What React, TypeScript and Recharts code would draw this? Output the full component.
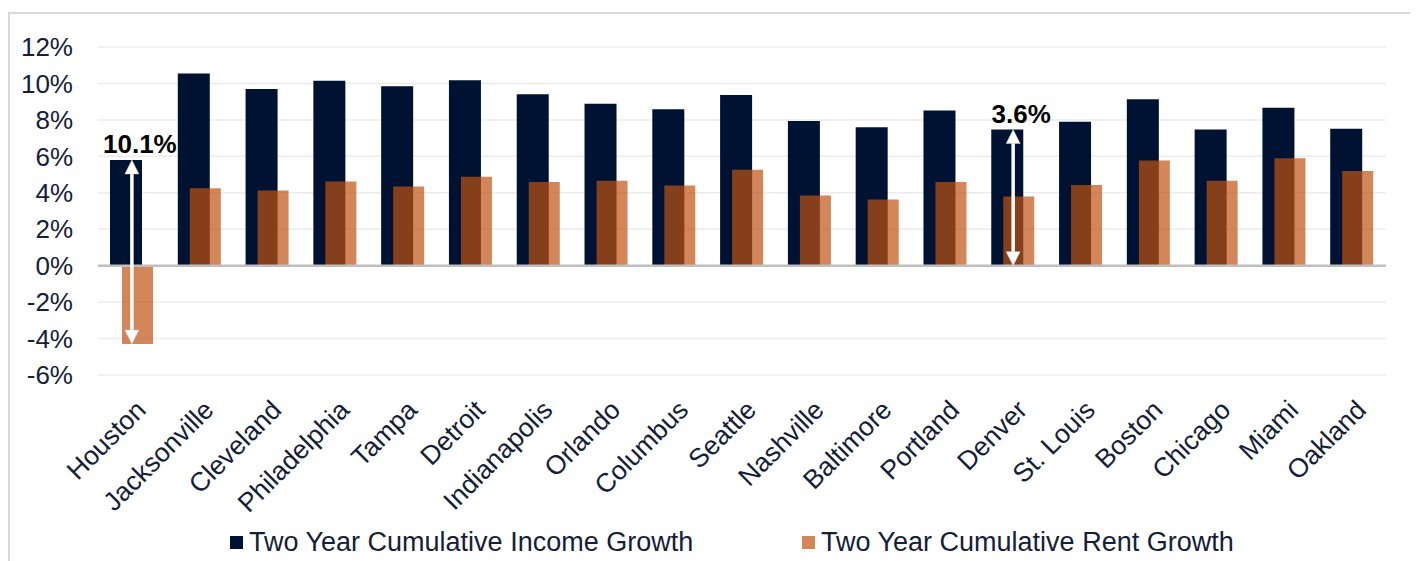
import React from 'react'
import { BarChart, Bar, XAxis, YAxis, CartesianGrid, ReferenceLine, Legend } from 'recharts'

const cities = [
  'Houston', 'Jacksonville', 'Cleveland', 'Philadelphia', 'Tampa', 'Detroit', 'Indianapolis',
  'Orlando', 'Columbus', 'Seattle', 'Nashville', 'Baltimore', 'Portland', 'Denver',
  'St. Louis', 'Boston', 'Chicago', 'Miami', 'Oakland'
]
const incomeGrowth = [
  5.8, 10.55, 9.69, 10.15, 9.84, 10.18, 9.41, 8.88, 8.58, 9.37,
  7.94, 7.59, 8.51, 7.47, 7.9, 9.13, 7.47, 8.66, 7.52
]
const rentGrowth = [
  -4.3, 4.25, 4.12, 4.62, 4.34, 4.88, 4.59, 4.66, 4.4, 5.27,
  3.85, 3.63, 4.59, 3.8, 4.42, 5.77, 4.66, 5.9, 5.2
]
const yTicks = [-6, -4, -2, 0, 2, 4, 6, 8, 10, 12]

// double arrows with the gap label above them
const arrows = [
  { city: 'Houston', from: 5.8, to: -4.3, label: '10.1%' },
  { city: 'Denver', from: 7.47, to: 0, label: '3.6%' }
]

const NAVY = '#001231'
const RUST = '#BF5313'
const TEXT = '#142038'

const data = cities.map((city, i) => ({
  city,
  income: incomeGrowth[i],
  rent: rentGrowth[i]
}))

const CityTick = (props: any) => {
  const { x, y, payload } = props
  return (
    <g transform={`translate(${x + 9},${y + 30})`}>
      <text textAnchor="end" transform="rotate(-45)" dy="0.35em" fontSize={26.5} fill={TEXT}>
        {payload.value}
      </text>
    </g>
  )
}

const arrowShape = (label: string) => (props: any) => {
  const { x1, y1, x2, y2 } = props
  const head = 14
  const half = 7
  return (
    <g>
      <line x1={x1} y1={y1 + head - 2} x2={x2} y2={y2 - head + 2} stroke="#ffffff" strokeWidth={3.5} />
      <polygon
        points={`${x1},${y1} ${x1 - half},${y1 + head} ${x1 + half},${y1 + head}`}
        fill="#ffffff"
        stroke="#c8c8c8"
        strokeWidth={0.5}
      />
      <polygon
        points={`${x2},${y2} ${x2 - half},${y2 - head} ${x2 + half},${y2 - head}`}
        fill="#ffffff"
        stroke="#c8c8c8"
        strokeWidth={0.5}
      />
      <text x={x1 + 8} y={y1 - 7} textAnchor="middle" fontSize={26} fontWeight="bold" fill="#000000">
        {label}
      </text>
    </g>
  )
}

const LegendContent = () => (
  <div style={{ display: 'flex', alignItems: 'center', height: 30, fontSize: 27, color: TEXT }}>
    <div style={{ display: 'flex', alignItems: 'center', width: 572 }}>
      <span style={{ width: 13, height: 13, background: NAVY, marginRight: 6, display: 'inline-block' }} />
      <span>Two Year Cumulative Income Growth</span>
    </div>
    <div style={{ display: 'flex', alignItems: 'center' }}>
      <span style={{ width: 13, height: 13, background: RUST, opacity: 0.7, marginRight: 6, display: 'inline-block' }} />
      <span>Two Year Cumulative Rent Growth</span>
    </div>
  </div>
)

export default function App() {
  return (
    <div style={{ paddingTop: 4, fontFamily: 'Arial, "Liberation Sans", sans-serif' }}>
      <style>{'html, body { overflow: hidden; }'}</style>
      <div
        style={{
          borderTop: '2px solid #d9d9d9',
          borderLeft: '2px solid #d9d9d9',
          width: 1410,
          height: 560
        }}
      >
        <BarChart
          width={1408}
          height={558}
          data={data}
          margin={{ top: 33, right: 32, left: 8, bottom: 7 }}
          barGap={-20}
        >
          <CartesianGrid vertical={false} stroke="#ececec" strokeWidth={1.5} />
          <XAxis
            dataKey="city"
            interval={0}
            axisLine={false}
            tickLine={false}
            tickSize={0}
            tickMargin={0}
            height={160}
            tick={<CityTick />}
          />
          <YAxis
            domain={[-6, 12]}
            ticks={yTicks}
            axisLine={false}
            tickLine={false}
            tickSize={0}
            tickMargin={25}
            width={80}
            tickFormatter={(v: number) => `${v}%`}
            tick={{ fontSize: 26, fill: TEXT }}
          />
          <Bar dataKey="income" fill={NAVY} barSize={32} isAnimationActive={false} />
          <Bar dataKey="rent" fill={RUST} fillOpacity={0.7} barSize={31} isAnimationActive={false} />
          <ReferenceLine y={0} stroke="#bfbfbf" strokeWidth={2.5} />
          {arrows.map((a) => (
            <ReferenceLine
              key={a.city}
              segment={[{ x: a.city, y: a.from }, { x: a.city, y: a.to }]}
              shape={arrowShape(a.label)}
            />
          ))}
          <Legend
            verticalAlign="bottom"
            content={<LegendContent />}
            wrapperStyle={{ left: 220, top: 513, width: 1100, height: 30 }}
          />
        </BarChart>
      </div>
    </div>
  )
}
